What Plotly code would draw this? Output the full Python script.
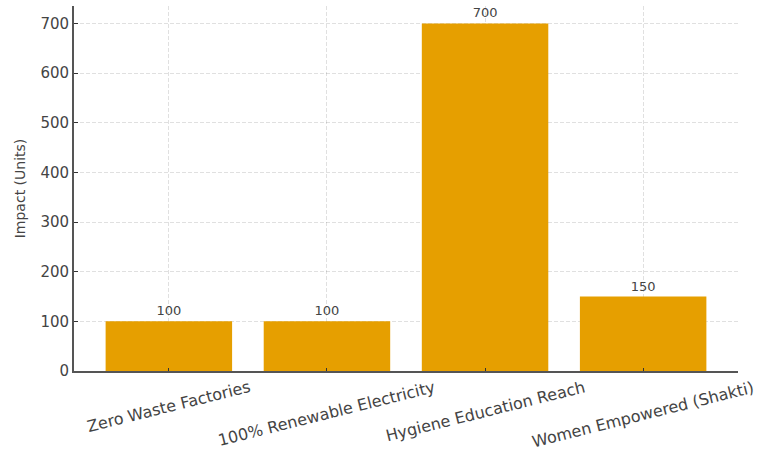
import plotly.graph_objects as go

categories = ["Zero Waste Factories", "100% Renewable Electricity",
              "Hygiene Education Reach", "Women Empowered (Shakti)"]
values = [100, 100, 700, 150]
y_ticks = [0, 100, 200, 300, 400, 500, 600, 700]

bar_color = "#E69F00"
text_color = "#444444"
font_family = "DejaVu Sans"

fig = go.Figure()
fig.add_trace(go.Bar(
    x=list(range(len(categories))), y=values,
    marker=dict(color=bar_color, line=dict(width=0)),
    width=0.8,
    text=[str(v) for v in values], textposition="outside",
    textfont=dict(family=font_family, size=13, color=text_color),
    cliponaxis=False,
))

for i, c in enumerate(categories):
    fig.add_annotation(
        x=i, y=0, xref="x", yref="y", text=c, showarrow=False,
        textangle=-14, xanchor="center", yanchor="top", yshift=-4,
        font=dict(family=font_family, size=16, color=text_color),
    )

fig.update_layout(
    width=759, height=455,
    margin=dict(l=74, r=21, t=6, b=84),
    paper_bgcolor="white", plot_bgcolor="white",
    showlegend=False,
    font=dict(family=font_family, color=text_color),
)
fig.update_xaxes(
    range=[-0.6, 3.6], tickvals=list(range(len(categories))), showticklabels=False,
    showgrid=True, gridcolor="rgba(0,0,0,0.12)", griddash="4px,2px", gridwidth=1,
    showline=True, linecolor="#555555", linewidth=1.8,
    ticks="inside", ticklen=3, tickcolor="#333333", layer="above traces",
    zeroline=False,
)
fig.update_yaxes(
    range=[0, 735], tickvals=y_ticks,
    tickfont=dict(family=font_family, size=15, color=text_color),
    showgrid=True, gridcolor="rgba(0,0,0,0.12)", griddash="4px,2px", gridwidth=1,
    showline=True, linecolor="#555555", linewidth=1.8,
    ticks="inside", ticklen=4, tickcolor="#333333",
    title=dict(text="Impact (Units)", font=dict(family=font_family, size=14, color=text_color), standoff=12),
    zeroline=False, layer="above traces",
)

fig.write_html("out.html")
